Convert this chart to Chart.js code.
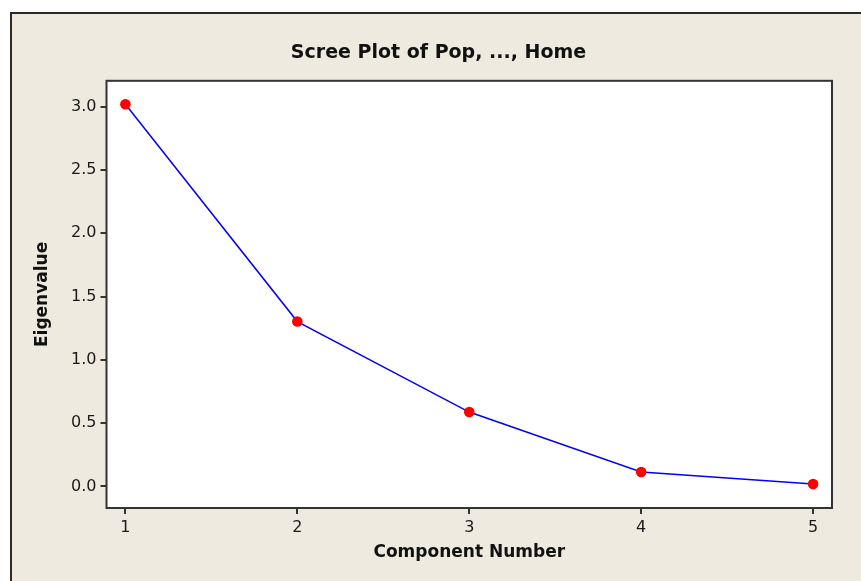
<!DOCTYPE html>
<html>
<head>
<meta charset="utf-8">
<script src="https://cdn.jsdelivr.net/npm/chart.js@4/dist/chart.umd.min.js"></script>
<style>
    html, body { margin: 0; padding: 0; background: #ffffff; overflow: hidden; }
    #frame {
        position: absolute; left: 10px; top: 12px; width: 861px; height: 581px;
        border-left: 2px solid #2a2a2a; border-top: 2px solid #2a2a2a;
        background: #eeeae0;
    }
    #wrap { position: absolute; left: 0; top: 0; width: 861px; height: 581px; }
</style>
</head>
<body>
<div id="frame"></div>
<div id="wrap"><canvas id="scree" width="861" height="581"></canvas></div>
<script>
// scree plot data
const components = [1, 2, 3, 4, 5];
const eigenvalues = [3.02, 1.303, 0.588, 0.114, 0.019];
const xTicks = [1, 2, 3, 4, 5];
const yTicks = [0.0, 0.5, 1.0, 1.5, 2.0, 2.5, 3.0];

const chartTitle = 'Scree Plot of Pop, ..., Home';
const xTitle = 'Component Number';
const yTitle = 'Eigenvalue';

const FONT = "'DejaVu Sans', Tahoma, sans-serif";
Chart.defaults.font.family = FONT;

// white plot area with a dark frame round it
const plotBox = {
    id: 'plotBox',
    beforeDraw(chart) {
        const a = chart.chartArea;
        const ctx = chart.ctx;
        ctx.save();
        ctx.fillStyle = '#ffffff';
        ctx.fillRect(a.left, a.top, a.right - a.left, a.bottom - a.top);
        ctx.restore();
    },
    beforeDatasetsDraw(chart) {
        const a = chart.chartArea;
        const ctx = chart.ctx;
        ctx.save();
        ctx.strokeStyle = '#333333';
        ctx.lineWidth = 2;
        ctx.strokeRect(a.left, a.top, a.right - a.left, a.bottom - a.top);
        ctx.restore();
    }
};

const points = components.map((c, i) => ({ x: c, y: eigenvalues[i] }));

new Chart(document.getElementById('scree').getContext('2d'), {
    type: 'scatter',
    data: {
        datasets: [{
            data: points,
            showLine: true,
            borderColor: '#0000ff',
            borderWidth: 1.5,
            pointBackgroundColor: '#ff0000',
            pointBorderWidth: 0,
            pointRadius: 5.3,
            pointHoverRadius: 5.3
        }]
    },
    options: {
        responsive: false,
        animation: false,
        layout: { padding: { left: 45, right: 29, top: 0, bottom: 0 } },
        plugins: {
            legend: { display: false },
            tooltip: { enabled: false },
            title: {
                display: true,
                text: chartTitle,
                color: '#111111',
                font: { size: 19, weight: 'bold' },
                padding: { top: 42, bottom: 16 }
            }
        },
        scales: {
            x: {
                type: 'linear',
                min: 0.89,
                max: 5.11,
                afterBuildTicks(scale) { scale.ticks = xTicks.map(v => ({ value: v })); },
                afterFit(scale) { scale.height = 73; },
                border: { display: false },
                grid: { drawOnChartArea: false, drawTicks: true, tickLength: 6, color: '#333333', lineWidth: 2 },
                ticks: { color: '#1a1a1a', font: { size: 16 }, padding: 4, maxRotation: 0 },
                title: {
                    display: true,
                    text: xTitle,
                    color: '#111111',
                    font: { size: 17, weight: 'bold' },
                    padding: { top: 0, bottom: 18 }
                }
            },
            y: {
                type: 'linear',
                min: -0.17,
                max: 3.205,
                afterBuildTicks(scale) { scale.ticks = yTicks.map(v => ({ value: v })); },
                afterFit(scale) { scale.width = 106.5 - 45; },
                border: { display: false },
                grid: { drawOnChartArea: false, drawTicks: true, tickLength: 6, color: '#333333', lineWidth: 2 },
                ticks: {
                    color: '#1a1a1a',
                    font: { size: 16 },
                    padding: 4,
                    callback: v => Number(v).toFixed(1)
                },
                title: {
                    display: true,
                    text: yTitle,
                    color: '#111111',
                    font: { size: 17, weight: 'bold' },
                    padding: { top: -12.5, bottom: 0 }
                }
            }
        }
    },
    plugins: [plotBox]
});
</script>
</body>
</html>
